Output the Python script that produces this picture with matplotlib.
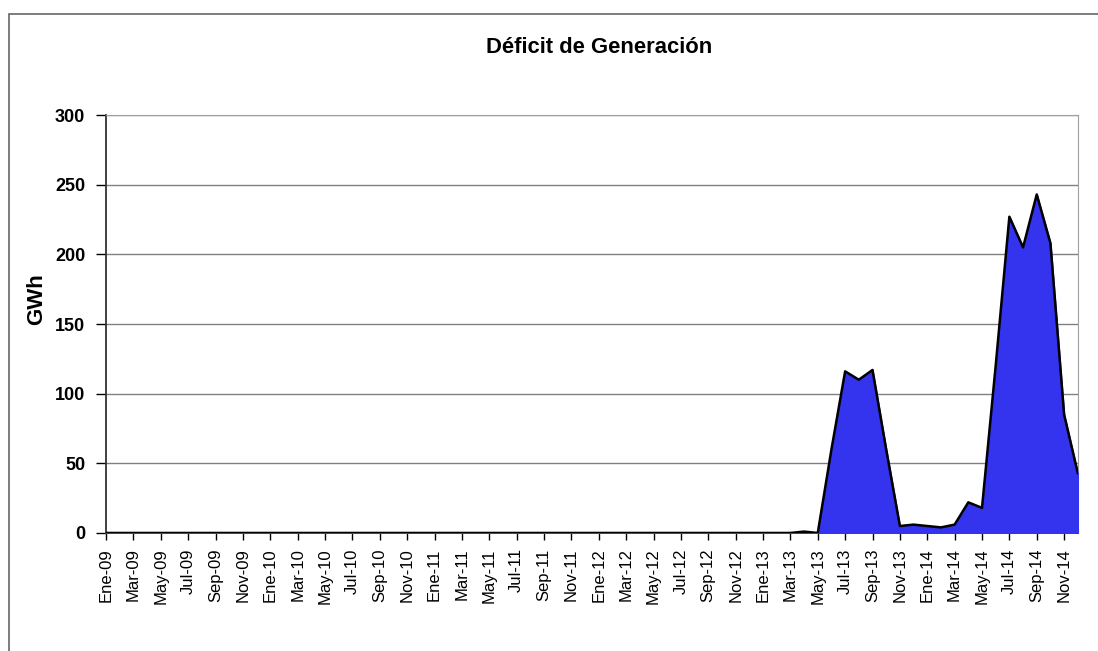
import numpy as np
import matplotlib.pyplot as plt
from matplotlib.patches import Rectangle

plt.rcParams['font.family'] = ['Liberation Sans', 'DejaVu Sans']

# meses Ene-09 .. Dic-14
meses_es = ['Ene', 'Feb', 'Mar', 'Abr', 'May', 'Jun', 'Jul', 'Ago', 'Sep', 'Oct', 'Nov', 'Dic']
anios = ['09', '10', '11', '12', '13', '14']
meses = [f"{m}-{a}" for a in anios for m in meses_es]

# deficit (GWh), cero hasta Mar-13
deficit_2009_2012 = [0] * 48
deficit_2013 = [0, 0, 0, 1, 0, 60, 116, 110, 117, 60, 5, 6]
deficit_2014 = [5, 4, 6, 22, 18, 120, 227, 205, 243, 208, 85, 43]
deficit = deficit_2009_2012 + deficit_2013 + deficit_2014

fig = plt.figure(figsize=(10.98, 6.51), dpi=100)
ax = fig.add_axes([0.0966, 0.1813, 0.885, 0.642])

x = np.arange(len(meses))
ax.fill_between(x, deficit, 0, color='#3434EE', zorder=3)
ax.plot(x, deficit, color='black', lw=1.8, zorder=4)

ax.set_xlim(0, len(meses) - 1)
ax.set_ylim(0, 300)
ax.set_yticks(range(0, 301, 50))
ax.set_yticklabels([str(v) for v in range(0, 301, 50)], fontweight='bold', fontsize=13)
ax.set_xticks(x[::2])
ax.set_xticklabels(meses[::2], rotation=90, fontsize=12)
ax.tick_params(axis='x', length=5, width=1, pad=6)
ax.tick_params(axis='y', length=7, width=1, pad=8)

ax.grid(axis='y', color='#808080', lw=1, zorder=0)
for s in ['top', 'right']:
    ax.spines[s].set_color('#a0a0a0')
for s in ['left', 'bottom']:
    ax.spines[s].set_color('#333333')
    ax.spines[s].set_linewidth(1.3)

fig.text(0.033, 0.541, 'GWh', rotation=90, ha='center', va='center',
         fontsize=16, fontweight='bold')
fig.text(0.546, 0.927, 'Déficit de Generación', ha='center', va='center',
         fontsize=15.8, fontweight='bold')

# borde exterior del grafico
fig.patches.append(Rectangle((0.008, -0.05), 1.1, 1.028, transform=fig.transFigure,
                             fill=False, edgecolor='#666666', lw=1.2))

fig.savefig('out.png', dpi=100)
